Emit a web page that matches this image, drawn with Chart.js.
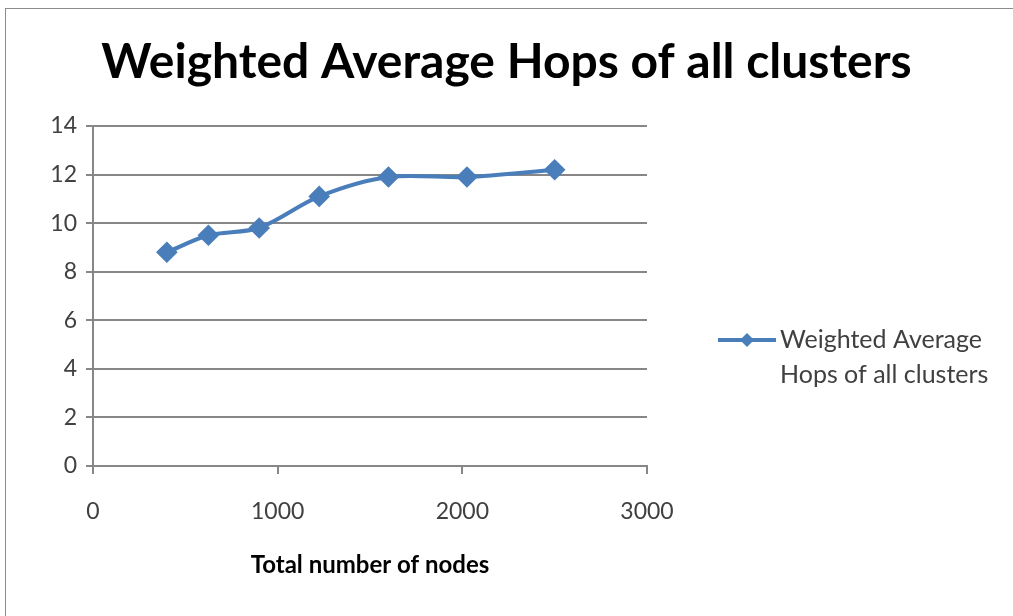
<!DOCTYPE html>
<html>
<head>
<meta charset="utf-8">
<title>Weighted Average Hops of all clusters</title>
<script src="https://cdn.jsdelivr.net/npm/chart.js@4/dist/chart.umd.min.js"></script>
<style>
    html, body { margin: 0; padding: 0; background: #fff; }
    #wrap { width: 1013px; height: 616px; position: relative; }
</style>
</head>
<body>
<div id="wrap"><canvas id="hopsChart"></canvas></div>
<script>
// Total nodes in the network vs. weighted average hop count
const nodeCounts = [400, 625, 900, 1225, 1600, 2025, 2500];
const weightedHops = [8.8, 9.5, 9.8, 11.1, 11.9, 11.9, 12.2];
const xTicks = [0, 1000, 2000, 3000];
const yTicks = [0, 2, 4, 6, 8, 10, 12, 14];

const seriesName = ['Weighted Average', 'Hops of all clusters'];
const lineColor = '#4a7ebb';
const axisColor = '#878787';
const textColor = '#404040';
const fontFamily = 'Lato, "Open Sans", sans-serif';

// outer frame of the chart object
const framePlugin = {
    id: 'frame',
    beforeDraw(chart) {
        const ctx = chart.ctx;
        ctx.save();
        ctx.fillStyle = '#fff';
        ctx.fillRect(0, 0, chart.width, chart.height);
        ctx.strokeStyle = '#8c8c8c';
        ctx.lineWidth = 1;
        ctx.strokeRect(5.5, 8.5, chart.width + 20, chart.height + 20);
        ctx.restore();
    }
};

// legend on the right, label wrapped over two lines
const sideLegend = {
    id: 'sideLegend',
    afterDraw(chart) {
        const ctx = chart.ctx;
        const ds = chart.data.datasets[0];
        const y = 340;
        ctx.save();
        ctx.strokeStyle = ds.borderColor;
        ctx.lineWidth = 4;
        ctx.beginPath();
        ctx.moveTo(718, y);
        ctx.lineTo(776, y);
        ctx.stroke();
        ctx.fillStyle = ds.pointBackgroundColor;
        ctx.beginPath();
        ctx.moveTo(747, y - 7); ctx.lineTo(754, y); ctx.lineTo(747, y + 7); ctx.lineTo(740, y);
        ctx.closePath();
        ctx.fill();
        ctx.fillStyle = textColor;
        ctx.font = '25px ' + fontFamily;
        ctx.textBaseline = 'middle';
        ctx.textAlign = 'left';
        seriesName.forEach((line, i) => ctx.fillText(line, 780, y + i * 35));
        ctx.restore();
    }
};

const ctx = document.getElementById('hopsChart').getContext('2d');
const chart = new Chart(ctx, {
    type: 'line',
    data: {
        datasets: [{
            label: seriesName.join(' '),
            data: nodeCounts.map((n, i) => ({ x: n, y: weightedHops[i] })),
            borderColor: lineColor,
            backgroundColor: lineColor,
            pointBackgroundColor: lineColor,
            pointBorderColor: lineColor,
            borderWidth: 4,
            pointStyle: 'rectRot',
            pointRadius: 8,
            pointHoverRadius: 8,
            tension: 0.3,
            fill: false
        }]
    },
    options: {
        responsive: true,
        maintainAspectRatio: false,
        animation: false,
        layout: {
            padding: 0
        },
        plugins: {
            legend: { display: false },
            tooltip: { enabled: false },
            title: {
                display: true,
                text: 'Weighted Average Hops of all clusters',
                color: '#000',
                font: { family: fontFamily, size: 48, weight: 'bold', lineHeight: 1.2 },
                padding: { top: 34, bottom: 34.4 }
            }
        },
        scales: {
            x: {
                type: 'linear',
                min: 0,
                max: 3000,
                afterBuildTicks(scale) {
                    scale.ticks = xTicks.map(v => ({ value: v }));
                },
                afterFit(scale) {
                    scale.height = 150;
                },
                border: { display: true, color: axisColor, width: 2 },
                grid: {
                    drawOnChartArea: false,
                    drawTicks: true,
                    tickLength: 8,
                    tickColor: axisColor,
                    lineWidth: 2
                },
                ticks: {
                    color: textColor,
                    padding: 24,
                    maxRotation: 0,
                    font: { family: fontFamily, size: 23 },
                    callback: v => String(v)
                },
                title: {
                    display: true,
                    text: 'Total number of nodes',
                    color: '#000',
                    font: { family: fontFamily, size: 24, weight: 'bold' },
                    padding: { top: 0, bottom: 36 }
                }
            },
            y: {
                min: 0,
                max: 14,
                afterBuildTicks(scale) {
                    scale.ticks = yTicks.map(v => ({ value: v }));
                },
                afterFit(scale) {
                    scale.width = 93;
                },
                border: { display: true, color: axisColor, width: 2 },
                grid: {
                    color: axisColor,
                    lineWidth: 2,
                    drawTicks: true,
                    tickLength: 7,
                    tickColor: axisColor
                },
                ticks: {
                    color: textColor,
                    padding: 9,
                    font: { family: fontFamily, size: 23 },
                    callback: v => String(v)
                }
            },
            // empty right-hand axis that keeps room for the legend
            legendSpace: {
                type: 'linear',
                position: 'right',
                min: 0,
                max: 1,
                afterFit(scale) {
                    scale.width = 366;
                },
                border: { display: false },
                grid: { display: false },
                ticks: { display: false }
            }
        }
    },
    plugins: [framePlugin, sideLegend]
});
</script>
</body>
</html>
